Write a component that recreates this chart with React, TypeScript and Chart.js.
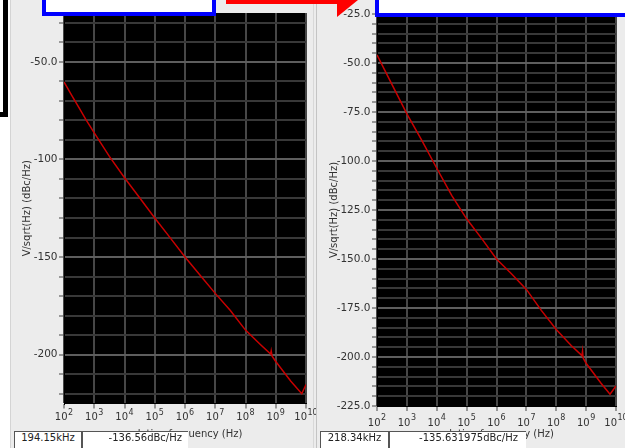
import React, { useEffect, useRef } from 'react';
import { Chart, registerables } from 'chart.js';

Chart.register(...registerables);

// ---- data ----
const X_TICKS = [1e2, 1e3, 1e4, 1e5, 1e6, 1e7, 1e8, 1e9, 1e10];
const X_TICK_BASE = '10';
const X_TICK_EXP = ['2', '3', '4', '5', '6', '7', '8', '9', '10'];

const LEFT_Y_TICKS = [-220, -210, -200, -190, -180, -170, -160, -150, -140, -130, -120, -110, -100, -90, -80, -70, -60, -50, -40, -30];
const LEFT_Y_LABELS = ['', '', '-200', '', '', '', '', '-150', '', '', '', '', '-100', '', '', '', '', '-50.0', '', ''];

const RIGHT_Y_TICKS = [-225, -220, -215, -210, -205, -200, -195, -190, -185, -180, -175, -170, -165, -160, -155, -150, -145, -140, -135, -130, -125, -120, -115, -110, -105, -100, -95, -90, -85, -80, -75, -70, -65, -60, -55, -50, -45, -40, -35, -30, -25];
const RIGHT_Y_LABELS = ['-225.0', '', '', '', '', '-200.0', '', '', '', '', '-175.0', '', '', '', '', '-150.0', '', '', '', '', '-125.0', '', '', '', '', '-100.0', '', '', '', '', '-75.0', '', '', '', '', '-50.0', '', '', '', '', '-25.0'];

const LEFT_FREQ = [1e2, 1.78e2, 3.16e2, 5.37e2, 1e3, 3.16e3, 1e4, 3.16e4, 1e5, 3.16e5, 1e6, 3.16e6, 1e7, 3.16e7, 1e8, 3.16e8, 6.76e8, 7.08e8, 7.59e8, 1e9, 3.16e9, 7.24e9, 1e10];
const LEFT_DB = [-60.3, -67.0, -73.6, -79.7, -86.4, -98.4, -109.4, -119.6, -130.0, -139.9, -150.0, -159.3, -168.6, -177.4, -187.4, -194.9, -199.7, -198.0, -200.8, -203.5, -213.6, -220.0, -215.3];

const RIGHT_FREQ = [1e2, 3.16e2, 1e3, 3.16e3, 1e4, 3.16e4, 1e5, 3.16e5, 1e6, 3.16e6, 1e7, 3.16e7, 1e8, 3.16e8, 7.24e8, 7.59e8, 7.94e8, 1e9, 3.16e9, 6.31e9, 1e10];
const RIGHT_DB = [-45.9, -60.9, -76.0, -89.5, -103.7, -117.5, -129.5, -139.5, -150.0, -157.5, -165.5, -176.2, -186.0, -194.1, -199.3, -197.0, -200.5, -203.2, -213.4, -219.0, -214.8];

const LEFT_READOUT = ['194.15kHz', '-136.56dBc/Hz'];
const RIGHT_READOUT = ['218.34kHz', '-135.631975dBc/Hz'];

const FONT = 'DejaVu Sans';

const plotBg = {
  id: 'plotBg',
  beforeDraw(chart: any) {
    const { ctx, chartArea } = chart;
    if (!chartArea) return;
    ctx.save();
    ctx.fillStyle = '#000';
    ctx.fillRect(chartArea.left, chartArea.top, chartArea.right - chartArea.left, chartArea.bottom - chartArea.top);
    ctx.restore();
  },
};

const makeXLabels = (baseOffset: number, expRise: number) => ({
  id: 'xPowLabels',
  afterDraw(chart: any) {
    const s = chart.scales.x;
    const ctx = chart.ctx;
    const baseY = chart.chartArea.bottom + baseOffset;
    ctx.save();
    ctx.fillStyle = '#333';
    ctx.textBaseline = 'alphabetic';
    ctx.textAlign = 'left';
    X_TICKS.forEach((v, i) => {
      const px = s.getPixelForValue(v);
      ctx.font = `10px "${FONT}"`;
      const bw = ctx.measureText(X_TICK_BASE).width;
      ctx.font = `8px "${FONT}"`;
      const ew = ctx.measureText(X_TICK_EXP[i]).width;
      const x0 = px - (bw + ew + 0.5) / 2;
      ctx.font = `10px "${FONT}"`;
      ctx.fillText(X_TICK_BASE, x0, baseY);
      ctx.font = `8px "${FONT}"`;
      ctx.fillText(X_TICK_EXP[i], x0 + bw + 0.5, baseY - expRise);
    });
    ctx.restore();
  },
});

interface PanelProps {
  left: number;
  width: number;
  freq: number[];
  db: number[];
  yTicks: number[];
  yLabels: string[];
  majorStep: number;
  yAxisWidth: number;
  xAxisHeight: number;
  padTop: number;
  padRight: number;
  labelBase: number;
  labelRise: number;
}

function PlotCanvas(p: PanelProps) {
  const ref = useRef<HTMLCanvasElement | null>(null);
  useEffect(() => {
    if (!ref.current) return;
    const data = p.freq.map((f, i) => ({ x: f, y: p.db[i] }));
    const chart = new Chart(ref.current, {
      type: 'line',
      data: {
        datasets: [
          {
            data,
            borderColor: '#c80000',
            borderWidth: 1.5,
            pointRadius: 0,
            tension: 0,
            fill: false,
          },
        ],
      },
      plugins: [plotBg, makeXLabels(p.labelBase, p.labelRise)],
      options: {
        animation: false,
        responsive: false,
        devicePixelRatio: 1,
        layout: { padding: { left: 0, top: p.padTop, right: p.padRight, bottom: 0 } },
        plugins: { legend: { display: false }, tooltip: { enabled: false } },
        scales: {
          x: {
            type: 'logarithmic',
            min: 1e2,
            max: 1e10,
            afterBuildTicks: (s: any) => {
              s.ticks = X_TICKS.map((v) => ({ value: v }));
            },
            afterFit: (s: any) => {
              s.height = p.xAxisHeight;
              s.paddingLeft = 0;
              s.paddingRight = 0;
            },
            ticks: {
              autoSkip: false,
              maxRotation: 0,
              minRotation: 0,
              padding: 2,
              color: '#333',
              font: { family: FONT, size: 10 },
              callback: () => '',
            },
            grid: {
              color: '#474747',
              lineWidth: 2,
              tickLength: 5,
              tickColor: '#444',
              tickWidth: 1,
            },
            border: { color: '#000', width: 1 },
            title: {
              display: true,
              text: 'relative frequency (Hz)',
              color: '#333',
              font: { family: FONT, size: 10 },
              padding: { top: 0, bottom: 8 },
            },
          },
          y: {
            type: 'linear',
            min: -225,
            max: -25,
            afterBuildTicks: (s: any) => {
              s.ticks = p.yTicks.map((v) => ({ value: v }));
            },
            afterFit: (s: any) => {
              s.width = p.yAxisWidth;
              s.paddingTop = 0;
              s.paddingBottom = 0;
            },
            ticks: {
              autoSkip: false,
              padding: 1.5,
              color: '#333',
              font: { family: FONT, size: 10.5 },
              callback: (_v: any, i: number) => p.yLabels[i],
            },
            grid: {
              color: (ctx: any) => {
                const v = ctx.tick ? ctx.tick.value : 0;
                if (v === -225 || v === -25) return 'rgba(0,0,0,0)';
                return v % p.majorStep === 0 ? '#5e5e5e' : '#383838';
              },
              lineWidth: 2,
              tickLength: 5,
              tickColor: '#444',
              tickWidth: 1,
            },
            border: { color: '#000', width: 1 },
            title: {
              display: true,
              text: 'V/sqrt(Hz) (dBc/Hz)',
              color: '#333',
              font: { family: FONT, size: 10 },
              padding: { top: 11, bottom: 0 },
            },
          },
        },
      } as any,
    });
    return () => chart.destroy();
  }, []);
  return (
    <canvas
      ref={ref}
      width={p.width}
      height={448}
      style={{ position: 'absolute', left: p.left, top: 0, width: p.width, height: 448 }}
    />
  );
}

const readoutBox = (left: number, width: number, text: string, align: 'center' | 'right', padRight: number, rightBorder: boolean) => (
  <div
    style={{
      position: 'absolute',
      left,
      top: 431,
      width,
      height: 20,
      boxSizing: 'border-box',
      background: '#fff',
      borderTop: '1px solid #555',
      borderLeft: '1px solid #555',
      borderRight: rightBorder ? '1px solid #555' : 'none',
      fontFamily: FONT,
      fontSize: 10,
      lineHeight: '12px',
      color: '#222',
      textAlign: align,
      paddingRight: padRight,
      whiteSpace: 'nowrap',
    }}
  >
    {text}
  </div>
);

export default function App() {
  return (
    <div style={{ position: 'fixed', left: 0, top: 0, width: 625, height: 448, overflow: 'hidden', background: '#fff' }}>
      {/* panel backgrounds */}
      <div style={{ position: 'absolute', left: 10, top: 0, width: 615, height: 448, background: '#ececec' }} />
      <div style={{ position: 'absolute', left: 10, top: 0, width: 1, height: 448, background: '#d4d4d4' }} />
      <div style={{ position: 'absolute', left: 313, top: 0, width: 1, height: 448, background: '#d8d8d8' }} />
      <div style={{ position: 'absolute', left: 316, top: 0, width: 1, height: 448, background: '#c4c4c4' }} />

      <PlotCanvas
        left={10}
        width={306}
        freq={LEFT_FREQ}
        db={LEFT_DB}
        yTicks={LEFT_Y_TICKS}
        yLabels={LEFT_Y_LABELS}
        majorStep={50}
        yAxisWidth={54}
        xAxisHeight={44.5}
        padTop={13}
        padRight={10}
        labelBase={16.5}
        labelRise={5}
      />
      <PlotCanvas
        left={317}
        width={308}
        freq={RIGHT_FREQ}
        db={RIGHT_DB}
        yTicks={RIGHT_Y_TICKS}
        yLabels={RIGHT_Y_LABELS}
        majorStep={25}
        yAxisWidth={60}
        xAxisHeight={42}
        padTop={14}
        padRight={9}
        labelBase={19.5}
        labelRise={6}
      />

      {/* black frame corner at far left */}
      <div style={{ position: 'absolute', left: -60, top: -60, width: 68, height: 177, boxSizing: 'border-box', border: '5px solid #000', background: '#fff' }} />

      {/* blue boxes */}
      <div style={{ position: 'absolute', left: 42, top: -4, width: 174, height: 20, boxSizing: 'border-box', border: '4px solid #0000ff', background: '#fff' }} />
      <div style={{ position: 'absolute', left: 375, top: -4, width: 260, height: 21, boxSizing: 'border-box', border: '4px solid #0000ff', background: '#fff' }} />

      {/* red arrow */}
      <div style={{ position: 'absolute', left: 226, top: 0, width: 116, height: 4, background: '#ff0000' }} />
      <div style={{ position: 'absolute', left: 337, top: 0, width: 21, height: 17, background: '#ff0000', clipPath: 'polygon(0 0, 100% 0, 0 100%)' }} />

      {/* readouts */}
      {readoutBox(14, 68, LEFT_READOUT[0], 'center', 0, true)}
      {readoutBox(82, 106, LEFT_READOUT[1], 'right', 6, false)}
      {readoutBox(320, 69, RIGHT_READOUT[0], 'center', 0, true)}
      {readoutBox(389, 137, RIGHT_READOUT[1], 'right', 8, false)}
    </div>
  );
}
